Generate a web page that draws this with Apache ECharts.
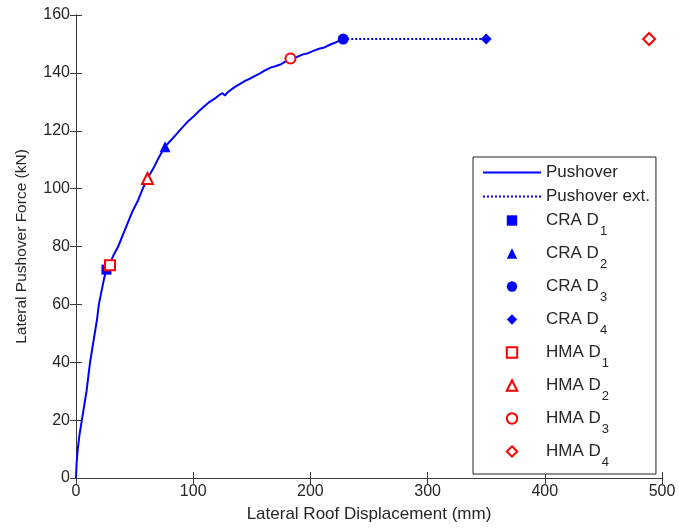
<!DOCTYPE html>
<html>
<head>
<meta charset="utf-8">
<script src="https://cdn.jsdelivr.net/npm/echarts@6/dist/echarts.min.js"></script>
<style>html,body{margin:0;padding:0;background:#fff}#c{width:679px;height:529px}</style>
</head>
<body>
<div id="c"></div>
<script>
// Pushover curve (displacement mm, force kN)
const pushover = [[0,0],[0.5,5],[1.5,10],[3,15],[5,20],[7,25],[9,30],[10.5,35],[12,40],[14,45],[16,50],[18,55],[19.5,60],[22,65],[24,69],[26,72],[29,74],[32,77],[36,80],[40,84],[44,88],[48,92],[53,96],[57,100],[61,103.5],[66,107],[71,111],[76,114.5],[80,116.3],[85,118.5],[90,120.8],[95,123],[100,124.8],[105,126.8],[110,128.6],[114,130],[118,131],[122,132.3],[125,133],[127,132.2],[130,133.5],[135,135],[140,136.2],[145,137.4],[148,137.9],[152,138.8],[157,139.8],[162,141],[166,141.8],[170,142.3],[175,143],[179,144],[183,145],[188,145.4],[193,146.3],[198,146.8],[203,147.7],[208,148.4],[212,148.8],[217,149.8],[222,150.6],[228,151.7]];
const pushoverExt = [[228,151.7],[350,151.7]];
const craD1 = [[26,72]];
const craD2 = [[76,114.5]];
const craD3 = [[228,151.7]];
const craD4 = [[350,151.7]];
const hmaD1 = [[29,73.5]];
const hmaD2 = [[61,103.5]];
const hmaD3 = [[183,145]];
const hmaD4 = [[489,151.7]];
const xTicks = [0,100,200,300,400,500];
const yTicks = [0,20,40,60,80,100,120,140,160];
const legendNames = ['Pushover','Pushover ext.','CRA D1','CRA D2','CRA D3','CRA D4','HMA D1','HMA D2','HMA D3','HMA D4'];

const BLUE = '#0000ff', RED = '#ff0000', AX = '#3a3a3a', TXT = '#262626';
const FONT = 'Liberation Sans, Arial, sans-serif';

function marker(name, data, symbol, filled, color, size) {
  return {
    name, type: 'line', data, symbol: filled ? symbol : 'empty' + symbol.charAt(0).toUpperCase() + symbol.slice(1),
    symbolSize: size, showSymbol: true, z: 5,
    lineStyle: {width: 0, opacity: 0},
    itemStyle: filled ? {color: color} : {color: color, borderColor: color, borderWidth: 2}
  };
}

const chart = echarts.init(document.getElementById('c'));
const axisCommon = {
  axisLine: {show: true, lineStyle: {color: AX, width: 1}},
  axisTick: {show: true, inside: true, length: 6, lineStyle: {color: AX}},
  splitLine: {show: false}
};
chart.setOption({
  animation: false,
  backgroundColor: '#fff',
  grid: {left: 76, right: 17, top: 15, bottom: 51, containLabel: false},
  xAxis: [
    Object.assign({type: 'value', min: xTicks[0], max: xTicks[xTicks.length-1], interval: 100,
      name: 'Lateral Roof Displacement (mm)', nameLocation: 'middle', nameGap: 28,
      nameTextStyle: {fontFamily: FONT, fontSize: 17, color: TXT},
      axisLabel: {fontFamily: FONT, fontSize: 16, color: TXT, margin: 6}}, axisCommon),
    Object.assign({type: 'value', position: 'top', min: xTicks[0], max: xTicks[xTicks.length-1], interval: 100,
      axisLabel: {show: false}}, axisCommon)
  ],
  yAxis: [
    Object.assign({type: 'value', min: yTicks[0], max: yTicks[yTicks.length-1], interval: 20,
      name: 'Lateral Pushover Force (kN)', nameLocation: 'middle', nameGap: 46,
      nameTextStyle: {fontFamily: FONT, fontSize: 15.5, color: TXT},
      axisLabel: {fontFamily: FONT, fontSize: 16, color: TXT, margin: 6}}, axisCommon),
    Object.assign({type: 'value', position: 'right', min: yTicks[0], max: yTicks[yTicks.length-1], interval: 20,
      axisLabel: {show: false}}, axisCommon)
  ],
  legend: {
    orient: 'vertical', left: 473, top: 157,
    padding: [7, 6, 5, 9],
    backgroundColor: '#fff', borderColor: '#222', borderWidth: 1,
    itemWidth: 58, itemHeight: 13, itemGap: 7,
    formatter: function (name) { return name.replace(/D(\d)$/, 'D{sub|$1}'); },
    textStyle: {fontFamily: FONT, fontSize: 17, color: TXT,
      rich: {sub: {fontFamily: FONT, fontSize: 13, color: TXT, padding: [22, 0, 0, 1]}}},
    data: legendNames.map(function (n, i) {
      return i < 2 ? {name: n, itemStyle: {opacity: 0}} : {name: n, lineStyle: {opacity: 0}};
    })
  },
  series: [
    {name: 'Pushover', type: 'line', data: pushover, symbol: 'none', showSymbol: false, z: 3,
      lineStyle: {color: BLUE, width: 2}, itemStyle: {color: BLUE}},
    {name: 'Pushover ext.', type: 'line', data: pushoverExt, symbol: 'none', showSymbol: false, z: 3,
      lineStyle: {color: BLUE, width: 2, type: [2, 2]}, itemStyle: {color: BLUE}},
    marker('CRA D1', craD1, 'rect', true, BLUE, 10),
    marker('CRA D2', craD2, 'triangle', true, BLUE, 11),
    marker('CRA D3', craD3, 'circle', true, BLUE, 11),
    marker('CRA D4', craD4, 'diamond', true, BLUE, 11),
    marker('HMA D1', hmaD1, 'rect', false, RED, 10),
    marker('HMA D2', hmaD2, 'triangle', false, RED, 11),
    marker('HMA D3', hmaD3, 'circle', false, RED, 10),
    marker('HMA D4', hmaD4, 'diamond', false, RED, 12)
  ]
});
</script>
</body>
</html>
